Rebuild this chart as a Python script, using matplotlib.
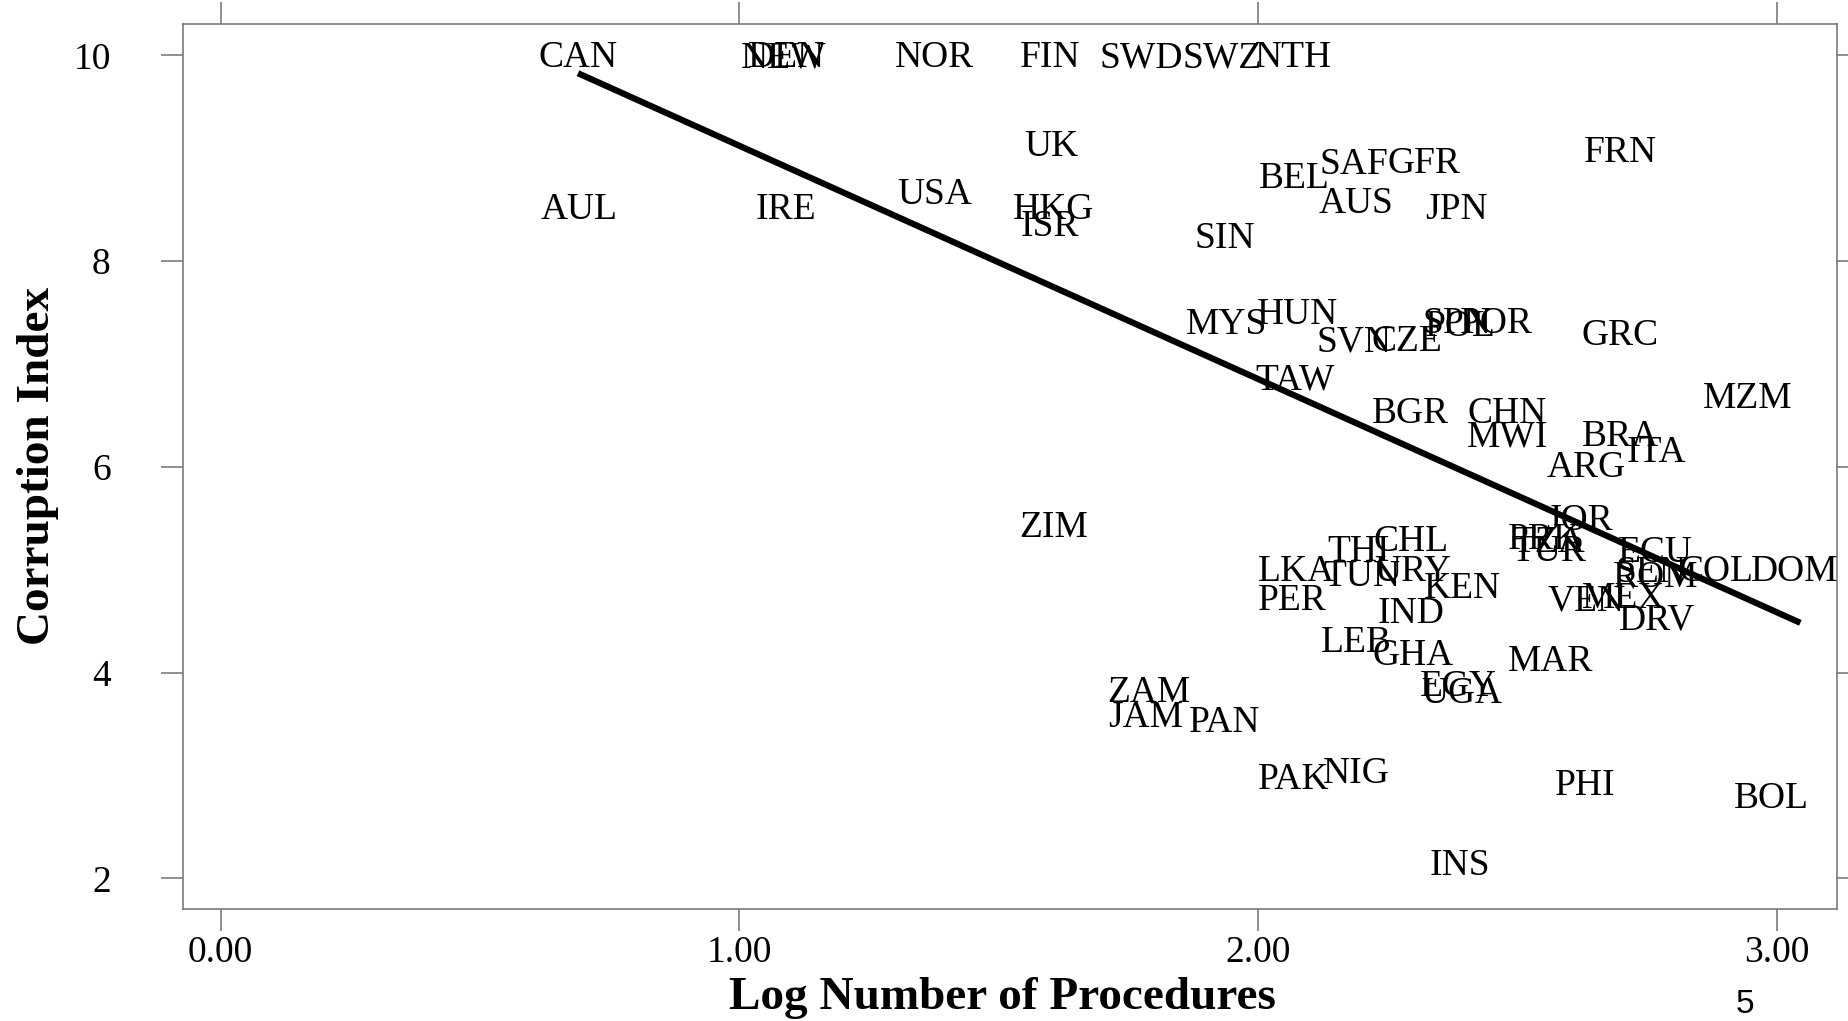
import numpy as np
import matplotlib
matplotlib.use("Agg")
import matplotlib.pyplot as plt
from matplotlib.transforms import offset_copy

# country codes, log number of procedures, corruption index
countries = ["CAN", "NEW", "DEN", "NOR", "FIN", "SWD", "SWZ", "NTH",
             "UK", "AUL", "IRE", "USA", "HKG", "ISR", "SIN", "BEL",
             "SAF", "GFR", "AUS", "JPN", "FRN", "MYS", "HUN", "SVN",
             "CZE", "SPN", "POL", "POR", "GRC", "TAW", "BGR", "CHN",
             "MWI", "BRA", "ITA", "ARG", "MZM", "ZIM", "JOR", "PRK",
             "TZA", "TUR", "ECU", "SEN", "ROM", "COL", "DOM", "VEN",
             "MEX", "DRV", "THI", "CHL", "LKA", "TUN", "URY", "KEN",
             "PER", "IND", "LEB", "GHA", "MAR", "EGY", "UGA", "ZAM",
             "JAM", "PAN", "PAK", "NIG", "PHI", "BOL", "INS"]
log_procs = [0.689, 1.086, 1.090, 1.377, 1.600, 1.775, 1.930, 2.068,
             1.602, 0.691, 1.089, 1.377, 1.605, 1.598, 1.936, 2.070,
             2.184, 2.320, 2.189, 2.382, 2.698, 1.939, 2.075, 2.184,
             2.286, 2.384, 2.389, 2.459, 2.698, 2.070, 2.293, 2.480,
             2.480, 2.698, 2.768, 2.632, 2.943, 1.605, 2.620, 2.552,
             2.559, 2.561, 2.766, 2.757, 2.766, 2.882, 3.034, 2.632,
             2.705, 2.768, 2.193, 2.295, 2.073, 2.200, 2.298, 2.393,
             2.066, 2.295, 2.189, 2.298, 2.564, 2.386, 2.393, 1.789,
             1.784, 1.936, 2.068, 2.189, 2.630, 2.989, 2.389]
corruption = [10.0, 10.0, 10.0, 10.0, 10.0, 10.0, 10.0, 10.0,
              9.14, 8.53, 8.53, 8.67, 8.53, 8.36, 8.25, 8.83,
              8.96, 8.97, 8.59, 8.53, 9.08, 7.41, 7.51, 7.24,
              7.24, 7.42, 7.39, 7.42, 7.30, 6.87, 6.54, 6.54,
              6.32, 6.32, 6.16, 6.02, 6.69, 5.44, 5.50, 5.32,
              5.29, 5.20, 5.19, 5.00, 4.95, 5.01, 5.01, 4.72,
              4.75, 4.54, 5.20, 5.30, 5.01, 4.96, 5.01, 4.84,
              4.73, 4.60, 4.32, 4.19, 4.13, 3.89, 3.82, 3.83,
              3.59, 3.54, 2.99, 3.04, 2.93, 2.80, 2.15]

# fitted line
fit_intercept = 11.39
fit_slope = -2.268

x_ticks = [0, 1, 2, 3]
y_ticks = [2, 4, 6, 8, 10]

plt.rcParams['font.family'] = ['Liberation Serif', 'DejaVu Serif']

fig = plt.figure(figsize=(18.49, 10.21), dpi=100)
ax = fig.add_axes([0.0989, 0.1095, 0.8947, 0.8674])

# R centres the capitals on the point, nudge a bit down
lab_tr = offset_copy(ax.transData, fig=fig, y=-2.0, units='points')
for name, xv, yv in zip(countries, log_procs, corruption):
    ax.text(xv, yv, name, fontsize=27, ha='center', va='center',
            transform=lab_tr)

xs = np.array([min(log_procs), 3.045])
ax.plot(xs, fit_intercept + fit_slope * xs, color='black', lw=4.5,
        solid_capstyle='butt')

ax.set_xlim(-0.0727, 3.116)
ax.set_ylim(1.70, 10.31)
ax.set_xticks(x_ticks)
ax.set_xticklabels([f"{v:.2f}" for v in x_ticks])
ax.set_yticks(y_ticks)

grey = '#707070'
for s in ax.spines.values():
    s.set_color(grey)
    s.set_linewidth(1.1)
ax.tick_params(axis='both', which='both', direction='out', length=16,
               width=1.1, color=grey, labelsize=27,
               top=True, right=True)
ax.tick_params(axis='y', pad=36)
ax.tick_params(axis='x', pad=3)

ax.set_xlabel('Log Number of Procedures', fontsize=34, fontweight='bold')
ax.set_ylabel('Corruption Index', fontsize=34, fontweight='bold',
              labelpad=10)
ax.xaxis.set_label_coords(0.4954, -0.076)

fig.text(0.9438, 0.0157, '5', fontsize=24, family='Liberation Sans',
         ha='center', va='center')

fig.savefig('out.png', dpi=100)
